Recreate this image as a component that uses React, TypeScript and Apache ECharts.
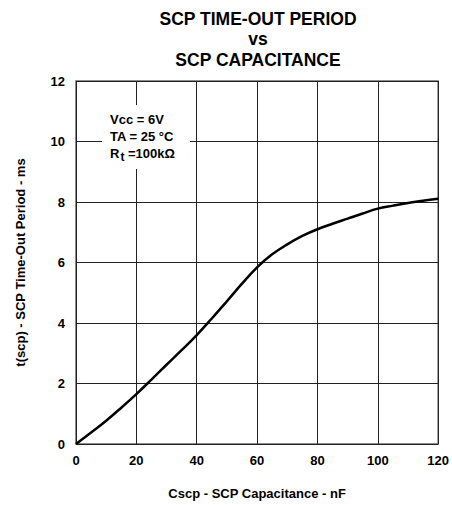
import React, { useEffect, useRef } from "react";
import * as echarts from "echarts";

const capacitance = [0, 5, 10, 15, 20, 25, 30, 35, 40, 45, 50, 55, 60, 65, 70, 75, 80, 85, 90, 95, 100, 105, 110, 115, 120];
const period = [0, 0.38, 0.77, 1.2, 1.65, 2.13, 2.62, 3.1, 3.6, 4.15, 4.72, 5.3, 5.84, 6.27, 6.6, 6.88, 7.1, 7.28, 7.45, 7.62, 7.78, 7.88, 7.97, 8.04, 8.11];

const titleLines = ["SCP TIME-OUT PERIOD", "vs", "SCP CAPACITANCE"];
const xName = "Cscp - SCP Capacitance - nF";
const yName = "t(scp) - SCP Time-Out Period - ms";
const noteLines = ["Vcc = 6V", "TA = 25 °C"];

const FONT = "'Liberation Sans', Arial, sans-serif";

export default function App() {
  const ref = useRef<HTMLDivElement>(null);
  useEffect(() => {
    if (!ref.current) return;
    const chart = echarts.init(ref.current, null, { renderer: "svg" });
    const data = capacitance.map((c, i) => [c, period[i]]);
    const titleY = [19, 39, 60];
    chart.setOption({
      animation: false,
      backgroundColor: "#fff",
      textStyle: { fontFamily: FONT },
      grid: {
        left: 76,
        right: 12,
        top: 81,
        bottom: 60,
        show: true,
        borderColor: "#666",
        borderWidth: 1.5,
        backgroundColor: "transparent",
      },
      xAxis: {
        type: "value",
        min: 0,
        max: 120,
        interval: 20,
        name: xName,
        nameLocation: "middle",
        nameGap: 43,
        nameTextStyle: { fontFamily: FONT, fontWeight: "bold", fontSize: 13, color: "#000" },
        axisLine: { show: false },
        axisTick: { show: false },
        axisLabel: { fontFamily: FONT, fontWeight: "bold", fontSize: 13, color: "#000", margin: 10 },
        splitLine: { show: true, lineStyle: { color: "#222", width: 1 } },
      },
      yAxis: {
        type: "value",
        min: 0,
        max: 12,
        interval: 2,
        name: yName,
        nameLocation: "middle",
        nameGap: 49,
        nameTextStyle: { fontFamily: FONT, fontWeight: "bold", fontSize: 13, color: "#000" },
        axisLine: { show: false },
        axisTick: { show: false },
        axisLabel: { fontFamily: FONT, fontWeight: "bold", fontSize: 13, color: "#000", margin: 11 },
        splitLine: { show: true, lineStyle: { color: "#222", width: 1 } },
      },
      series: [
        {
          type: "line",
          data,
          smooth: 0.4,
          showSymbol: false,
          lineStyle: { color: "#000", width: 2.5 },
          z: 3,
        },
      ],
      graphic: [
        ...titleLines.map((t, i) => ({
          type: "text",
          x: 258,
          y: titleY[i],
          style: {
            text: t,
            fontFamily: FONT,
            fontWeight: "bold",
            fontSize: 17.5,
            fill: "#000",
            textAlign: "center",
            textVerticalAlign: "middle",
          },
        })),
        {
          type: "rect",
          z: 50,
          shape: { x: 102, y: 105, width: 88, height: 64 },
          style: { fill: "#fff" },
        },
        ...noteLines.map((t, i) => ({
          type: "text",
          z: 51,
          x: 110,
          y: 119 + i * 17,
          style: {
            text: t,
            fontFamily: FONT,
            fontWeight: "bold",
            fontSize: 13,
            fill: "#000",
            textVerticalAlign: "middle",
          },
        })),
        {
          type: "text",
          z: 51,
          x: 110,
          y: 147,
          style: {
            text: "{a|R}{s|t}{a| =100kΩ}",
            rich: {
              a: { fontFamily: FONT, fontWeight: "bold", fontSize: 13, fill: "#000", verticalAlign: "top", lineHeight: 16 },
              s: { fontFamily: FONT, fontWeight: "bold", fontSize: 12, fill: "#000", verticalAlign: "bottom", lineHeight: 16, padding: [4, 0, 0, 1] },
            },
          },
        },
      ],
    });
    return () => chart.dispose();
  }, []);
  return <div ref={ref} style={{ width: 452, height: 505, position: "absolute", left: 0, top: 0 }} />;
}
